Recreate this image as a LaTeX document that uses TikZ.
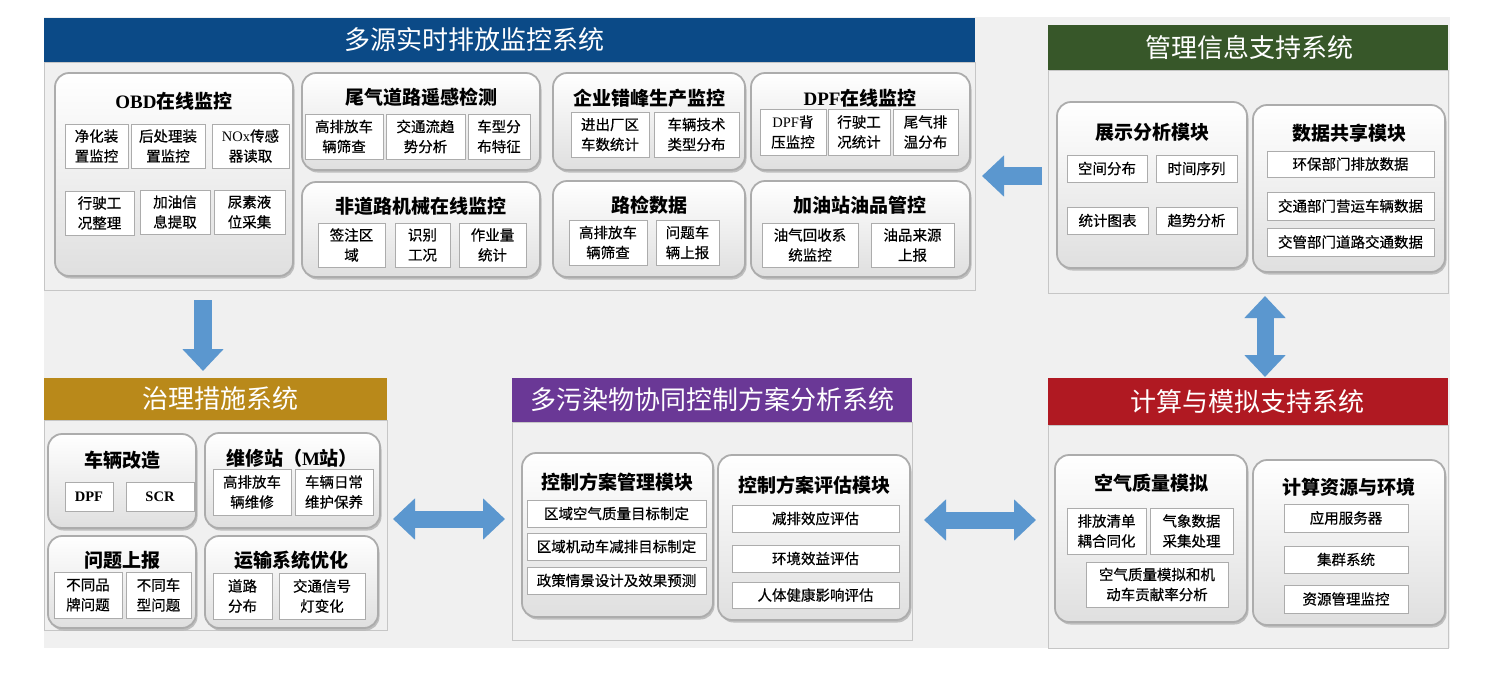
\documentclass[tikz,border=0pt]{standalone}
\usepackage{fontspec}
\setmainfont{Noto Sans CJK SC}
\newfontfamily\subf{Noto Sans CJK SC}[FakeBold=0.5]
\newfontfamily\serifb{Liberation Serif}
\usetikzlibrary{arrows.meta,shadows}
\definecolor{cblue}{RGB}{11,74,135}
\definecolor{cgreen}{RGB}{55,87,41}
\definecolor{cgold}{RGB}{185,137,26}
\definecolor{cpurple}{RGB}{106,56,150}
\definecolor{cred}{RGB}{176,25,34}
\definecolor{carrow}{RGB}{91,151,207}
\definecolor{bgc}{RGB}{240,240,240}
\newcommand\mybox[7]{%
  \pgfmathsetmacro\mbw{#4-#2}\pgfmathsetmacro\mbh{#5-#3}%
  \pgfmathsetmacro\mbx{(#2+#4)/2}\pgfmathsetmacro\mby{(#3+#5)/2}%
  \node[#6, minimum width=\mbw pt, minimum height=\mbh pt, inner sep=0pt] (#1) at (\mbx,\mby) {#7};}
\begin{document}
\begin{tikzpicture}[x=1pt,y=-1pt,
  head/.style={draw=none, fill=#1},
  htxt/.style={text=white, font=\fontsize{26}{30}\selectfont, inner sep=0pt},
  body/.style={draw=gray!45, fill=bgc, line width=0.8pt},
  mod/.style={rounded corners=14pt, draw=gray!65, line width=1.8pt, top color=white, bottom color=gray!25,
     drop shadow={shadow xshift=1.5pt, shadow yshift=-2.5pt, fill=gray!60, opacity=0.8}},
  mt/.style={font=\bfseries\fontsize{19}{22}\selectfont, inner sep=0pt},
  sb/.style={draw=gray!65, fill=white, line width=0.9pt, align=center, font=\subf\fontsize{14.5}{20}\selectfont,
     drop shadow={shadow xshift=1pt, shadow yshift=-1pt, fill=gray!45, opacity=0.8}},
  arr/.style={draw=carrow, line width=18pt, -{Triangle[length=22pt,width=40pt]}},
  darr/.style={draw=carrow, line width=17pt, {Triangle[length=22pt,width=40pt]}-{Triangle[length=22pt,width=40pt]}}]
\useasboundingbox (0,0) rectangle (1500,673);
\fill[white] (0,0) rectangle (1500,673);
\fill[bgc] (44,17) rectangle (1450,648);

% ---------- top: multi-source monitoring
\mybox{topbody}{44}{62}{975}{290}{body}{}
\mybox{tophead}{44}{18}{975}{62}{head=cblue}{}
\node[htxt] (topT) at (474,40) {多源实时排放监控系统};

\mybox{obd}{55}{73}{293}{276}{mod}{}
\node[mt] (obdT) at (174,101) {{\serifb OBD}在线监控};
\mybox{s1}{65}{124}{128}{168}{sb}{净化装\\置监控}
\mybox{s2}{131}{124}{205}{168}{sb}{后处理装\\置监控}
\mybox{s3}{212}{124}{289}{168}{sb}{{\serifb NOx}传感\\器读取}
\mybox{s4}{65}{191}{134}{235}{sb}{行驶工\\况整理}
\mybox{s5}{140}{190}{210}{234}{sb}{加油信\\息提取}
\mybox{s6}{214}{190}{285}{234}{sb}{尿素液\\位采集}

\mybox{wq}{302}{73}{540}{170}{mod}{}
\node[mt] (wqT) at (421,97) {尾气道路遥感检测};
\mybox{s7}{305}{114}{383}{159}{sb}{高排放车\\辆筛查}
\mybox{s8}{386}{114}{465}{159}{sb}{交通流趋\\势分析}
\mybox{s9}{468}{114}{530}{159}{sb}{车型分\\布特征}

\mybox{fdl}{302}{182}{540}{277}{mod}{}
\node[mt] (fdlT) at (421,206) {非道路机械在线监控};
\mybox{s10}{318}{223}{385}{267}{sb}{签注区\\域}
\mybox{s11}{395}{223}{450}{267}{sb}{识别\\工况}
\mybox{s12}{459}{223}{526}{267}{sb}{作业量\\统计}

\mybox{qy}{553}{73}{745}{170}{mod}{}
\node[mt] (qyT) at (649,98) {企业错峰生产监控};
\mybox{s13}{571}{112}{649}{157}{sb}{进出厂区\\车数统计}
\mybox{s14}{654}{112}{739}{157}{sb}{车辆技术\\类型分布}

\mybox{dpf}{751}{73}{970}{170}{mod}{}
\node[mt] (dpfT) at (860,98) {{\serifb DPF}在线监控};
\mybox{s15}{760}{109}{826}{155}{sb}{{\serifb DPF}背\\压监控}
\mybox{s16}{828}{109}{890}{155}{sb}{行驶工\\况统计}
\mybox{s17}{893}{109}{958}{155}{sb}{尾气排\\温分布}

\mybox{lj}{553}{181}{745}{277}{mod}{}
\node[mt] (ljT) at (649,205) {路检数据};
\mybox{s18}{569}{220}{647}{265}{sb}{高排放车\\辆筛查}
\mybox{s19}{656}{220}{719}{265}{sb}{问题车\\辆上报}

\mybox{jyz}{751}{181}{970}{277}{mod}{}
\node[mt] (jyzT) at (860,205) {加油站油品管控};
\mybox{s20}{762}{223}{858}{267}{sb}{油气回收系\\统监控}
\mybox{s21}{871}{223}{954}{267}{sb}{油品来源\\上报}

% ---------- green: management info
\mybox{grbody}{1048}{70}{1448}{293}{body}{}
\mybox{grhead}{1048}{25}{1448}{70}{head=cgreen}{}
\node[htxt] (grT) at (1249,48) {管理信息支持系统};

\mybox{zs}{1057}{102}{1247}{268}{mod}{}
\node[mt] (zsT) at (1152,132) {展示分析模块};
\mybox{s22}{1067}{155}{1147}{182}{sb}{空间分布}
\mybox{s23}{1156}{155}{1237}{182}{sb}{时间序列}
\mybox{s24}{1067}{207}{1148}{234}{sb}{统计图表}
\mybox{s25}{1156}{207}{1237}{234}{sb}{趋势分析}

\mybox{sj}{1253}{105}{1445}{272}{mod}{}
\node[mt] (sjT) at (1349,133) {数据共享模块};
\mybox{s26}{1267}{151}{1434}{177}{sb}{环保部门排放数据}
\mybox{s27}{1267}{192}{1434}{220}{sb}{交通部门营运车辆数据}
\mybox{s28}{1267}{228}{1434}{256}{sb}{交管部门道路交通数据}

% ---------- gold: governance
\mybox{gdbody}{44}{420}{387}{630}{body}{}
\mybox{gdhead}{44}{378}{387}{420}{head=cgold}{}
\node[htxt] (gdT) at (220,399) {治理措施系统};

\mybox{gz}{48}{434}{196}{528}{mod}{}
\node[mt] (gzT) at (122,460) {车辆改造};
\mybox{s29}{65}{482}{113}{511}{sb, font=\serifb\bfseries\fontsize{14.5}{20}\selectfont}{DPF}
\mybox{s30}{126}{482}{194}{511}{sb, font=\serifb\bfseries\fontsize{14.5}{20}\selectfont}{SCR}

\mybox{wx}{205}{433}{380}{528}{mod}{}
\node[mt] (wxT) at (292,458) {维修站（{\serifb M}站）};
\mybox{s31}{213}{469}{291}{515}{sb}{高排放车\\辆维修}
\mybox{s32}{295}{469}{373}{515}{sb}{车辆日常\\维护保养}

\mybox{wt}{48}{536}{196}{628}{mod}{}
\node[mt] (wtT) at (122,560) {问题上报};
\mybox{s33}{54}{572}{122}{618}{sb}{不同品\\牌问题}
\mybox{s34}{126}{572}{191}{618}{sb}{不同车\\型问题}

\mybox{ys}{205}{536}{378}{628}{mod}{}
\node[mt] (ysT) at (291,560) {运输系统优化};
\mybox{s35}{213}{573}{272}{619}{sb}{道路\\分布}
\mybox{s36}{279}{573}{365}{619}{sb}{交通信号\\灯变化}

% ---------- purple: control scheme
\mybox{ppbody}{512}{422}{912}{640}{body}{}
\mybox{pphead}{512}{378}{912}{422}{head=cpurple}{}
\node[htxt] (ppT) at (712,400) {多污染物协同控制方案分析系统};

\mybox{gl}{522}{453}{713}{617}{mod}{}
\node[mt] (glT) at (617,482) {控制方案管理模块};
\mybox{s37}{527}{500}{706}{527}{sb}{区域空气质量目标制定}
\mybox{s38}{527}{533}{706}{560}{sb}{区域机动车减排目标制定}
\mybox{s39}{527}{567}{706}{594}{sb}{政策情景设计及效果预测}

\mybox{pg}{718}{455}{910}{620}{mod}{}
\node[mt] (pgT) at (814,485) {控制方案评估模块};
\mybox{s40}{732}{505}{899}{532}{sb}{减排效应评估}
\mybox{s41}{732}{545}{899}{572}{sb}{环境效益评估}
\mybox{s42}{732}{582}{899}{608}{sb}{人体健康影响评估}

% ---------- red: computing
\mybox{rdbody}{1048}{425}{1448}{648}{body}{}
\mybox{rdhead}{1048}{378}{1448}{425}{head=cred}{}
\node[htxt] (rdT) at (1247,402) {计算与模拟支持系统};

\mybox{kq}{1055}{455}{1247}{622}{mod}{}
\node[mt] (kqT) at (1151,483) {空气质量模拟};
\mybox{s43}{1067}{508}{1146}{554}{sb}{排放清单\\耦合同化}
\mybox{s44}{1150}{508}{1233}{554}{sb}{气象数据\\采集处理}
\mybox{s45}{1086}{562}{1228}{607}{sb}{空气质量模拟和机\\动车贡献率分析}

\mybox{js}{1253}{460}{1445}{625}{mod}{}
\node[mt] (jsT) at (1349,487) {计算资源与环境};
\mybox{s46}{1284}{504}{1408}{532}{sb}{应用服务器}
\mybox{s47}{1284}{546}{1408}{573}{sb}{集群系统}
\mybox{s48}{1284}{585}{1408}{613}{sb}{资源管理监控}

% ---------- arrows
\coordinate (a1s) at (203,300);
\coordinate (a1e) at (203,371);
\coordinate (a2s) at (1042,176);
\coordinate (a2e) at (982,176);
\coordinate (a3s) at (1265,296);
\coordinate (a3e) at (1265,377);
\coordinate (a4s) at (393,519);
\coordinate (a4e) at (505,519);
\coordinate (a5s) at (924,520);
\coordinate (a5e) at (1036,520);
\draw[arr] (a1s) -- (a1e);
\draw[arr] (a2s) -- (a2e);
\draw[darr] (a3s) -- (a3e);
\draw[darr] (a4s) -- (a4e);
\draw[darr] (a5s) -- (a5e);
\end{tikzpicture}
\end{document}
